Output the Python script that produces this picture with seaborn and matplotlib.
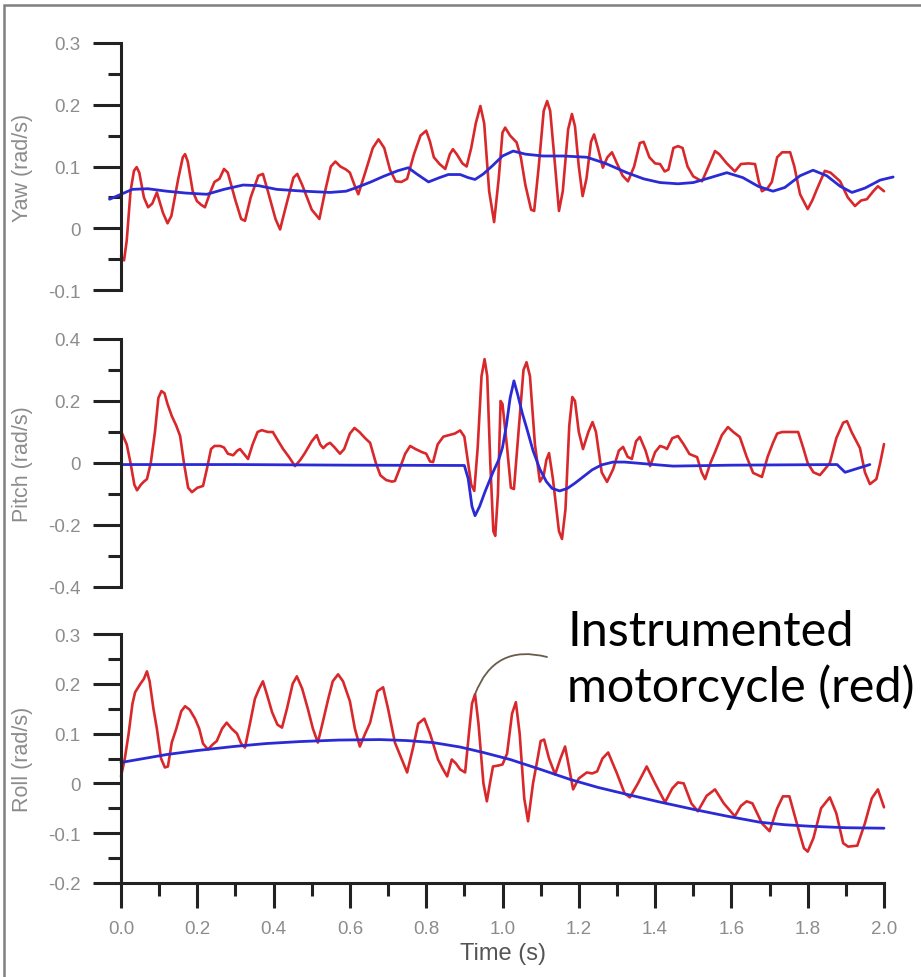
import matplotlib
matplotlib.use("Agg")
import matplotlib.pyplot as plt
import matplotlib.patches as mpatches
from matplotlib.ticker import MultipleLocator, FixedLocator, FixedFormatter
import seaborn as sns

# yaw (top panel)
yaw_red_t = [0.0, 0.008, 0.015, 0.025, 0.034, 0.041, 0.048, 0.06, 0.071, 0.082, 0.094, 0.11, 0.122, 0.132, 0.15,
             0.162, 0.168, 0.175, 0.188, 0.199, 0.21, 0.22, 0.235, 0.245, 0.258, 0.27, 0.28, 0.3, 0.315, 0.325,
             0.34, 0.36, 0.372, 0.385, 0.405, 0.417, 0.43, 0.452, 0.462, 0.475, 0.5, 0.52, 0.535, 0.55, 0.562,
             0.575, 0.59, 0.6, 0.612, 0.622, 0.64, 0.66, 0.675, 0.69, 0.705, 0.72, 0.735, 0.75, 0.768, 0.785,
             0.8, 0.81, 0.82, 0.835, 0.85, 0.862, 0.87, 0.88, 0.895, 0.906, 0.918, 0.93, 0.942, 0.952, 0.965,
             0.978, 0.99, 1.0, 1.007, 1.02, 1.037, 1.048, 1.06, 1.075, 1.083, 1.095, 1.108, 1.117, 1.125, 1.138,
             1.148, 1.158, 1.172, 1.182, 1.19, 1.2, 1.21, 1.22, 1.232, 1.24, 1.25, 1.263, 1.275, 1.287, 1.3,
             1.315, 1.329, 1.345, 1.36, 1.37, 1.385, 1.4, 1.413, 1.425, 1.435, 1.448, 1.46, 1.472, 1.485, 1.5,
             1.523, 1.54, 1.557, 1.568, 1.588, 1.609, 1.625, 1.645, 1.662, 1.672, 1.68, 1.695, 1.706, 1.72,
             1.733, 1.754, 1.765, 1.78, 1.8, 1.812, 1.824, 1.845, 1.86, 1.885, 1.905, 1.924, 1.94, 1.955, 1.972,
             1.984, 2.0]
yaw_red = [-0.045, -0.052, -0.02, 0.06, 0.093, 0.099, 0.09, 0.05, 0.034, 0.04, 0.058, 0.025, 0.008, 0.02, 0.08,
           0.115, 0.12, 0.108, 0.06, 0.044, 0.038, 0.034, 0.06, 0.075, 0.08, 0.096, 0.09, 0.045, 0.015, 0.012,
           0.05, 0.085, 0.088, 0.06, 0.015, -0.002, 0.03, 0.082, 0.088, 0.07, 0.03, 0.015, 0.06, 0.1, 0.108,
           0.1, 0.095, 0.09, 0.07, 0.055, 0.09, 0.13, 0.144, 0.13, 0.095, 0.076, 0.075, 0.08, 0.12, 0.15,
           0.158, 0.14, 0.115, 0.104, 0.096, 0.12, 0.128, 0.12, 0.105, 0.1, 0.13, 0.17, 0.198, 0.17, 0.06,
           0.01, 0.08, 0.155, 0.163, 0.15, 0.139, 0.115, 0.07, 0.03, 0.028, 0.1, 0.19, 0.206, 0.19, 0.1,
           0.028, 0.06, 0.16, 0.185, 0.165, 0.1, 0.052, 0.08, 0.14, 0.152, 0.13, 0.098, 0.115, 0.123, 0.105,
           0.085, 0.076, 0.1, 0.138, 0.14, 0.115, 0.105, 0.104, 0.092, 0.095, 0.13, 0.133, 0.13, 0.1, 0.084,
           0.076, 0.1, 0.125, 0.12, 0.105, 0.092, 0.104, 0.105, 0.104, 0.075, 0.06, 0.065, 0.075, 0.115,
           0.123, 0.123, 0.1, 0.055, 0.031, 0.045, 0.063, 0.093, 0.09, 0.076, 0.05, 0.036, 0.045, 0.047, 0.06,
           0.068, 0.06]
yaw_blue_t = [-0.03, 0.0, 0.03, 0.07, 0.12, 0.17, 0.225, 0.27, 0.32, 0.36, 0.408, 0.48, 0.548, 0.59, 0.618, 0.655,
              0.688, 0.725, 0.753, 0.775, 0.806, 0.835, 0.858, 0.889, 0.91, 0.928, 0.95, 0.975, 1.0, 1.028, 1.06,
              1.106, 1.16, 1.221, 1.27, 1.326, 1.37, 1.413, 1.46, 1.5, 1.545, 1.588, 1.63, 1.67, 1.709, 1.74,
              1.78, 1.814, 1.85, 1.885, 1.916, 1.95, 1.99, 2.024]
yaw_blue = [0.047, 0.055, 0.063, 0.064, 0.06, 0.057, 0.055, 0.063, 0.07, 0.069, 0.063, 0.06, 0.058, 0.06, 0.066, 0.075,
            0.084, 0.093, 0.098, 0.088, 0.075, 0.082, 0.087, 0.087, 0.082, 0.079, 0.088, 0.102, 0.117, 0.125, 0.12,
            0.117, 0.117, 0.115, 0.105, 0.09, 0.08, 0.074, 0.072, 0.074, 0.082, 0.09, 0.082, 0.068, 0.06, 0.066,
            0.085, 0.094, 0.085, 0.068, 0.058, 0.065, 0.078, 0.083]

# pitch (middle panel)
pitch_red_t = [0.0, 0.008, 0.015, 0.025, 0.035, 0.042, 0.052, 0.06, 0.068, 0.078, 0.089, 0.098, 0.106, 0.114, 0.122,
               0.133, 0.145, 0.155, 0.165, 0.176, 0.186, 0.2, 0.215, 0.225, 0.236, 0.245, 0.26, 0.27, 0.28, 0.294,
               0.305, 0.312, 0.322, 0.333, 0.345, 0.358, 0.369, 0.385, 0.398, 0.41, 0.425, 0.44, 0.456, 0.47,
               0.482, 0.5, 0.513, 0.522, 0.53, 0.54, 0.548, 0.56, 0.574, 0.585, 0.6, 0.612, 0.625, 0.64, 0.653,
               0.668, 0.68, 0.695, 0.71, 0.718, 0.73, 0.745, 0.758, 0.772, 0.789, 0.8, 0.81, 0.818, 0.83, 0.845,
               0.86, 0.875, 0.889, 0.9, 0.91, 0.918, 0.926, 0.935, 0.945, 0.953, 0.96, 0.968, 0.976, 0.981, 0.988,
               0.995, 1.0, 1.012, 1.022, 1.03, 1.042, 1.055, 1.063, 1.072, 1.085, 1.098, 1.108, 1.115, 1.122,
               1.132, 1.148, 1.156, 1.165, 1.175, 1.183, 1.19, 1.2, 1.211, 1.225, 1.236, 1.245, 1.26, 1.274, 1.29,
               1.305, 1.316, 1.328, 1.339, 1.35, 1.36, 1.375, 1.387, 1.4, 1.413, 1.425, 1.431, 1.445, 1.46, 1.475,
               1.49, 1.51, 1.522, 1.531, 1.545, 1.557, 1.575, 1.591, 1.605, 1.622, 1.64, 1.657, 1.68, 1.695, 1.709,
               1.72, 1.733, 1.755, 1.775, 1.788, 1.8, 1.815, 1.832, 1.845, 1.858, 1.875, 1.893, 1.903, 1.915,
               1.937, 1.95, 1.963, 1.98, 1.99, 2.0]
pitch_red = [0.103, 0.08, 0.06, 0.0, -0.07, -0.088, -0.07, -0.06, -0.052, 0.0, 0.1, 0.21, 0.232, 0.225, 0.19,
             0.152, 0.12, 0.087, 0.0, -0.08, -0.094, -0.08, -0.074, -0.02, 0.045, 0.055, 0.055, 0.05, 0.03, 0.025,
             0.04, 0.045, 0.03, 0.013, 0.06, 0.1, 0.106, 0.1, 0.1, 0.075, 0.045, 0.02, -0.01, 0.01,
             0.032, 0.07, 0.09, 0.06, 0.048, 0.06, 0.065, 0.05, 0.03, 0.045, 0.095, 0.113, 0.1, 0.08, 0.065,
             0.0, -0.04, -0.055, -0.06, -0.058, -0.02, 0.03, 0.055, 0.045, 0.035, 0.03, 0.005, 0.003, 0.06, 0.085,
             0.09, 0.095, 0.105, 0.085, 0.0, -0.07, -0.09, 0.05, 0.28, 0.335, 0.28, 0.0, -0.22, -0.235, -0.1,
             0.2, 0.19, 0.05, -0.08, -0.084, 0.1, 0.3, 0.325, 0.28, 0.06, -0.06, -0.04, 0.01, 0.032,
             -0.05, -0.22, -0.245, -0.15, 0.12, 0.213, 0.2, 0.1, 0.045, 0.1, 0.132, 0.1, -0.03, -0.061, -0.02,
             0.04, 0.052, 0.02, 0.013, 0.07, 0.084, 0.04, -0.01, 0.035, 0.055, 0.05, 0.045, 0.08, 0.087, 0.06,
             0.029, 0.019, -0.03, -0.052, 0.0, 0.035, 0.09, 0.116, 0.1, 0.084, 0.02, -0.032, -0.045, 0.02, 0.065,
             0.095, 0.1, 0.1, 0.1, 0.05, 0.0, -0.03, -0.039, -0.02, 0.0, 0.08, 0.13, 0.135, 0.1,
             0.048, -0.03, -0.068, -0.052, 0.0, 0.061]
pitch_blue_t = [0.0, 0.3, 0.6, 0.9, 0.91, 0.92, 0.928, 0.94, 0.955, 0.975, 0.99, 1.0, 1.01, 1.02, 1.03, 1.04, 1.052,
                1.064, 1.08, 1.098, 1.115, 1.13, 1.15, 1.17, 1.19, 1.211, 1.235, 1.26, 1.29, 1.32, 1.378, 1.447,
                1.6, 1.877, 1.898, 1.963]
pitch_blue = [-0.005, -0.005, -0.007, -0.008, -0.05, -0.14, -0.17, -0.14, -0.09, -0.03, 0.01, 0.05, 0.12, 0.21,
              0.265, 0.22, 0.16, 0.11, 0.04, -0.02, -0.06, -0.082, -0.09, -0.082, -0.065, -0.045, -0.022, -0.006,
              0.003, 0.003, -0.003, -0.01, -0.007, -0.005, -0.03, -0.005]

# roll (bottom panel)
roll_red_t = [0.0, 0.01, 0.02, 0.03, 0.037, 0.05, 0.06, 0.068, 0.075, 0.085, 0.094, 0.105, 0.115, 0.123, 0.133,
              0.145, 0.158, 0.168, 0.18, 0.194, 0.205, 0.215, 0.228, 0.24, 0.251, 0.265, 0.277, 0.29, 0.304, 0.315,
              0.325, 0.338, 0.351, 0.362, 0.372, 0.382, 0.396, 0.41, 0.422, 0.435, 0.45, 0.461, 0.475, 0.49, 0.503,
              0.516, 0.528, 0.543, 0.555, 0.569, 0.582, 0.6, 0.613, 0.626, 0.64, 0.653, 0.672, 0.687, 0.7, 0.718,
              0.735, 0.75, 0.765, 0.779, 0.795, 0.81, 0.822, 0.831, 0.843, 0.855, 0.867, 0.878, 0.889, 0.902,
              0.912, 0.92, 0.928, 0.937, 0.95, 0.959, 0.967, 0.975, 0.99, 1.0, 1.012, 1.025, 1.035, 1.045, 1.057,
              1.067, 1.08, 1.093, 1.1, 1.109, 1.122, 1.138, 1.152, 1.164, 1.175, 1.185, 1.2, 1.221, 1.235, 1.248,
              1.262, 1.277, 1.3, 1.32, 1.334, 1.355, 1.378, 1.4, 1.426, 1.445, 1.46, 1.475, 1.495, 1.512, 1.535,
              1.557, 1.58, 1.609, 1.625, 1.64, 1.655, 1.68, 1.7, 1.72, 1.735, 1.752, 1.775, 1.79, 1.8, 1.815,
              1.835, 1.858, 1.875, 1.893, 1.906, 1.93, 1.95, 1.968, 1.984, 2.0]
roll_red = [0.014, 0.05, 0.1, 0.16, 0.183, 0.199, 0.21, 0.225, 0.205, 0.15, 0.11, 0.05, 0.032, 0.034, 0.082,
            0.11, 0.145, 0.155, 0.148, 0.13, 0.11, 0.08, 0.068, 0.078, 0.085, 0.11, 0.122, 0.11, 0.1, 0.08,
            0.072, 0.12, 0.17, 0.19, 0.205, 0.18, 0.143, 0.118, 0.112, 0.15, 0.2, 0.215, 0.19, 0.149, 0.11,
            0.082, 0.12, 0.169, 0.205, 0.219, 0.205, 0.165, 0.11, 0.074, 0.1, 0.122, 0.185, 0.193, 0.15, 0.082,
            0.05, 0.022, 0.07, 0.12, 0.13, 0.1, 0.07, 0.048, 0.03, 0.014, 0.048, 0.04, 0.028, 0.022,
            0.1, 0.16, 0.179, 0.12, 0.0, -0.036, 0.0, 0.034, 0.036, 0.038, 0.06, 0.14, 0.163, 0.1, -0.03,
            -0.076, 0.0, 0.054, 0.085, 0.088, 0.05, 0.018, 0.05, 0.074, 0.03, -0.012, 0.01, 0.022, 0.02, 0.024,
            0.05, 0.062, 0.02, -0.02, -0.028, 0.0, 0.034, 0.0, -0.038, -0.01, 0.002, 0.0, -0.04, -0.056, -0.025,
            -0.012, -0.04, -0.066, -0.045, -0.036, -0.04, -0.08, -0.096, -0.05, -0.026, -0.026, -0.09, -0.13, -0.137, -0.11,
            -0.05, -0.028, -0.06, -0.12, -0.127, -0.125, -0.08, -0.03, -0.012, -0.048]
roll_blue_t = [0.0, 0.06, 0.12, 0.2, 0.294, 0.38, 0.469, 0.57, 0.679, 0.75, 0.818, 0.889, 0.95, 1.02, 1.1, 1.177,
               1.25, 1.326, 1.41, 1.5, 1.59, 1.675, 1.74, 1.806, 1.9, 2.0]
roll_blue = [0.042, 0.05, 0.058, 0.066, 0.074, 0.08, 0.084, 0.087, 0.088, 0.086, 0.082, 0.073, 0.062, 0.048, 0.028,
             0.008, -0.008, -0.022, -0.037, -0.052, -0.066, -0.078, -0.083, -0.086, -0.089, -0.09]

x_ticks = [0.0, 0.2, 0.4, 0.6, 0.8, 1.0, 1.2, 1.4, 1.6, 1.8, 2.0]
x_labels = ["0.0", "0.2", "0.4", "0.6", "0.8", "1.0", "1.2", "1.4", "1.6", "1.8", "2.0"]

panels = [
    ("Yaw (rad/s)", yaw_red_t, yaw_red, yaw_blue_t, yaw_blue,
     [-0.1, 0.3], [0.3, 0.2, 0.1, 0.0, -0.1], ["0.3", "0.2", "0.1", "0", "-0.1"], 0.05),
    ("Pitch (rad/s)", pitch_red_t, pitch_red, pitch_blue_t, pitch_blue,
     [-0.4, 0.4], [0.4, 0.2, 0.0, -0.2, -0.4], ["0.4", "0.2", "0", "-0.2", "-0.4"], 0.1),
    ("Roll (rad/s)", roll_red_t, roll_red, roll_blue_t, roll_blue,
     [-0.2, 0.3], [0.3, 0.2, 0.1, 0.0, -0.1, -0.2], ["0.3", "0.2", "0.1", "0", "-0.1", "-0.2"], 0.05),
]

sns.set_style("white")
plt.rcParams["font.family"] = ["Liberation Sans", "DejaVu Sans"]
plt.rcParams["axes.unicode_minus"] = False

W, H = 921, 978
fig = plt.figure(figsize=(W / 100, H / 100), dpi=100)

# axes boxes in pixels: (top, bottom)
boxes = [(44, 291), (340, 588), (635, 884)]
x0, x1 = 121, 884
red, blue = "#d9282b", "#2b2bd6"
spine_col = "#222222"
tick_col = "#8c8c8c"

axes = []
for (label, rt, rv, bt, bv, ylim, yt, yl, minor), (top, bot) in zip(panels, boxes):
    ax = fig.add_axes([x0 / W, 1 - bot / H, (x1 - x0) / W, (bot - top) / H])
    ax.patch.set_alpha(0)
    sns.lineplot(x=rt, y=rv, ax=ax, color=red, lw=1.9, estimator=None, clip_on=False)
    sns.lineplot(x=bt, y=bv, ax=ax, color=blue, lw=2.0, estimator=None, clip_on=False)
    ax.set_xlim(0, 2)
    ax.set_ylim(*ylim)
    for s in ["top", "right"]:
        ax.spines[s].set_visible(False)
    ax.spines["left"].set_color(spine_col)
    ax.spines["left"].set_linewidth(2.2)
    ax.yaxis.set_major_locator(FixedLocator(yt))
    ax.yaxis.set_major_formatter(FixedFormatter(yl))
    ax.yaxis.set_minor_locator(MultipleLocator(minor))
    ax.tick_params(axis="y", which="major", length=20, width=2.2, color=spine_col,
                   labelcolor=tick_col, labelsize=13.5, pad=9, left=True)
    ax.tick_params(axis="y", which="minor", length=9.5, width=2.2, color=spine_col, left=True)
    ax.set_ylabel(label, fontsize=15.5, color=tick_col)
    ax.yaxis.set_label_coords(-0.115, 0.5)
    ax.set_xlabel("")
    axes.append(ax)

for ax in axes[:2]:
    ax.spines["bottom"].set_visible(False)
    ax.tick_params(axis="x", which="both", bottom=False, labelbottom=False)

ax3 = axes[2]
ax3.spines["bottom"].set_color(spine_col)
ax3.spines["bottom"].set_linewidth(2.2)
ax3.xaxis.set_major_locator(FixedLocator(x_ticks))
ax3.xaxis.set_major_formatter(FixedFormatter(x_labels))
ax3.xaxis.set_minor_locator(MultipleLocator(0.1))
ax3.tick_params(axis="x", which="major", length=18, width=2.2, color=spine_col,
                labelcolor=tick_col, labelsize=13.5, pad=9, bottom=True)
ax3.tick_params(axis="x", which="minor", length=9, width=2.2, color=spine_col, bottom=True)
ax3.set_xlabel("Time (s)", fontsize=17, color="#555555", labelpad=3)

# callout for the instrumented motorcycle trace
ax3.annotate("", xy=(0.928, 0.179), xycoords="data",
             xytext=(547 / W, 1 - 658 / H), textcoords="figure fraction",
             arrowprops=dict(arrowstyle="-", connectionstyle="arc3,rad=0.45",
                             color="#6b5b4b", lw=1.3, shrinkA=0, shrinkB=0))
fig.text(567 / W, 1 - 610 / H, "Instrumented\nmotorcycle (red)", ha="left", va="top",
         fontsize=35, family=["Lato", "DejaVu Sans"], color="black", linespacing=1.27)

# outer grey frame
fig.patches.append(mpatches.Rectangle((4 / W, -0.05), 1.1, 1 - 6 / H + 0.05, transform=fig.transFigure,
                                      fill=False, edgecolor="#808080", lw=1.8, figure=fig))

fig.savefig("out.png", dpi=100)
